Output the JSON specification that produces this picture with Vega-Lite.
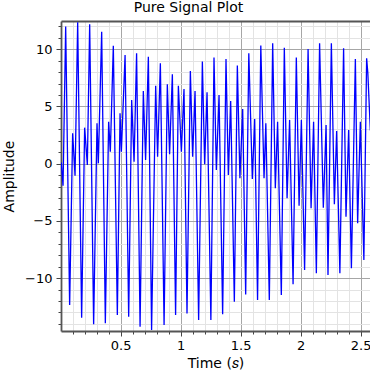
{
  "$schema": "https://vega.github.io/schema/vega-lite/v6.json",
  "autosize": {"type": "none"},
  "padding": {"left": 61, "top": 21, "right": 0, "bottom": 39},
  "width": 309,
  "height": 310,
  "config": {
    "font": "DejaVu Sans",
    "view": {"stroke": null},
    "axis": {"labelFont": "DejaVu Sans", "titleFont": "DejaVu Sans", "labelColor": "#000", "titleColor": "#000", "titleFontWeight": "normal", "labelFontSize": 13, "titleFontSize": 14, "domainColor": "#555", "domainWidth": 1.8, "tickColor": "#444", "tickWidth": 1}
  },
  "title": {"text": "Pure Signal Plot", "fontSize": 14, "fontWeight": "normal", "color": "#000", "font": "DejaVu Sans", "dx": -27, "offset": 5},
  "data": {"values": [
    {"t": 0.005, "v": 0.1}, {"t": 0.020, "v": -1.92}, {"t": 0.042, "v": 11.98}, {"t": 0.075, "v": -12.35},
    {"t": 0.100, "v": 2.66}, {"t": 0.120, "v": -1.05}, {"t": 0.142, "v": 12.36}, {"t": 0.175, "v": -13.46},
    {"t": 0.200, "v": 3.15}, {"t": 0.2225, "v": -0.11}, {"t": 0.242, "v": 12.19}, {"t": 0.275, "v": -14.04},
    {"t": 0.303, "v": 3.53}, {"t": 0.314, "v": 0.03}, {"t": 0.342, "v": 11.54}, {"t": 0.3725, "v": -13.95},
    {"t": 0.400, "v": 3.67}, {"t": 0.414, "v": 1.05}, {"t": 0.439, "v": 10.31}, {"t": 0.4725, "v": -13.23},
    {"t": 0.495, "v": 4.41}, {"t": 0.506, "v": 1.05}, {"t": 0.537, "v": 9.50}, {"t": 0.567, "v": -13.37},
    {"t": 0.592, "v": 5.57}, {"t": 0.612, "v": 0.17}, {"t": 0.633, "v": 9.65}, {"t": 0.662, "v": -14.25},
    {"t": 0.689, "v": 6.36}, {"t": 0.708, "v": 0.32}, {"t": 0.731, "v": 9.35}, {"t": 0.758, "v": -14.54},
    {"t": 0.792, "v": 6.82}, {"t": 0.808, "v": 0.61}, {"t": 0.831, "v": 8.78}, {"t": 0.862, "v": -14.10},
    {"t": 0.889, "v": 6.94}, {"t": 0.908, "v": 0.82}, {"t": 0.931, "v": 7.81}, {"t": 0.958, "v": -13.23},
    {"t": 0.981, "v": 6.82}, {"t": 1.006, "v": 1.05}, {"t": 1.028, "v": 6.53}, {"t": 1.053, "v": -13.08},
    {"t": 1.081, "v": 8.10}, {"t": 1.100, "v": 0.61}, {"t": 1.120, "v": 6.36}, {"t": 1.150, "v": -13.66},
    {"t": 1.181, "v": 8.92}, {"t": 1.200, "v": -0.05}, {"t": 1.220, "v": 6.24}, {"t": 1.252, "v": -13.66},
    {"t": 1.278, "v": 9.27}, {"t": 1.2975, "v": -0.55}, {"t": 1.320, "v": 6.01}, {"t": 1.350, "v": -13.16},
    {"t": 1.378, "v": 9.15}, {"t": 1.3975, "v": -0.99}, {"t": 1.417, "v": 5.48}, {"t": 1.4475, "v": -12.06},
    {"t": 1.4725, "v": 8.57}, {"t": 1.494, "v": -1.28}, {"t": 1.517, "v": 4.78}, {"t": 1.542, "v": -11.42},
    {"t": 1.568, "v": 9.65}, {"t": 1.5975, "v": -1.34}, {"t": 1.617, "v": 3.91}, {"t": 1.641, "v": -11.91},
    {"t": 1.668, "v": 10.33}, {"t": 1.695, "v": -1.28}, {"t": 1.710, "v": 3.53}, {"t": 1.739, "v": -11.91},
    {"t": 1.767, "v": 10.52}, {"t": 1.789, "v": -2.15}, {"t": 1.808, "v": 3.67}, {"t": 1.839, "v": -11.48},
    {"t": 1.864, "v": 10.14}, {"t": 1.887, "v": -3.02}, {"t": 1.908, "v": 3.82}, {"t": 1.937, "v": -10.54},
    {"t": 1.964, "v": 9.27}, {"t": 1.987, "v": -3.67}, {"t": 2.006, "v": 3.82}, {"t": 2.033, "v": -9.29},
    {"t": 2.062, "v": 10.03}, {"t": 2.087, "v": -3.90}, {"t": 2.108, "v": 3.67}, {"t": 2.131, "v": -9.58},
    {"t": 2.158, "v": 10.52}, {"t": 2.189, "v": -3.85}, {"t": 2.212, "v": 3.38}, {"t": 2.228, "v": -9.73},
    {"t": 2.256, "v": 10.52}, {"t": 2.281, "v": -3.55}, {"t": 2.300, "v": 2.86}, {"t": 2.327, "v": -9.58},
    {"t": 2.358, "v": 10.09}, {"t": 2.378, "v": -4.63}, {"t": 2.400, "v": 2.95}, {"t": 2.423, "v": -9.14},
    {"t": 2.456, "v": 9.15}, {"t": 2.475, "v": -5.21}, {"t": 2.4975, "v": 3.67}, {"t": 2.527, "v": -8.42},
    {"t": 2.550, "v": 9.21}, {"t": 2.560, "v": 7.90}, {"t": 2.581, "v": 2.9}
  ]},
  "layer": [
    {
      "mark": {"type": "line", "color": "#0000ff", "strokeWidth": 1.3, "clip": true},
      "encoding": {
        "x": {
          "field": "t", "type": "quantitative",
          "scale": {"domain": [0.003, 2.578], "nice": false, "zero": false},
          "axis": {
            "orient": "bottom", "title": "Time (𝑠)",
            "values": [0.1,0.2,0.3,0.4,0.5,0.6,0.7,0.8,0.9,1,1.1,1.2,1.3,1.4,1.5,1.6,1.7,1.8,1.9,2,2.1,2.2,2.3,2.4,2.5],
            "labelExpr": "datum.value % 0.5 === 0 ? datum.label : ''",
            "format": "~g",
            "labelFlush": false, "labelOverlap": false,
            "tickSize": {"condition": {"test": "datum.value % 0.5 === 0", "value": 5}, "value": 3},
            "labelPadding": 3, "titlePadding": 4,
            "grid": true, "gridWidth": 1,
            "gridColor": {"condition": {"test": "datum.value % 0.5 === 0", "value": "#a6a6a6"}, "value": "#e3e3e3"}
          }
        },
        "y": {
          "field": "v", "type": "quantitative",
          "scale": {"domain": [-14.62, 12.47], "nice": false, "zero": false},
          "axis": {
            "orient": "left", "title": "Amplitude",
            "values": [-14,-13,-12,-11,-10,-9,-8,-7,-6,-5,-4,-3,-2,-1,0,1,2,3,4,5,6,7,8,9,10,11,12],
            "labelExpr": "datum.value % 5 === 0 ? replace(datum.label, '-', '−') : ''",
            "labelFlush": false, "labelOverlap": false,
            "tickSize": {"condition": {"test": "datum.value % 5 === 0", "value": 5}, "value": 3},
            "labelPadding": 4, "titlePadding": 8,
            "grid": true, "gridWidth": 1,
            "gridColor": {"condition": {"test": "datum.value % 5 === 0", "value": "#a6a6a6"}, "value": "#e3e3e3"}
          }
        }
      }
    },
    {
      "mark": {"type": "line", "opacity": 0},
      "encoding": {
        "x": {"field": "t", "type": "quantitative", "axis": {"orient": "top", "labels": false, "ticks": false, "grid": false, "title": null}},
        "y": {"field": "v", "type": "quantitative", "axis": null}
      }
    }
  ],
  "resolve": {"axis": {"x": "independent", "y": "independent"}}
}
